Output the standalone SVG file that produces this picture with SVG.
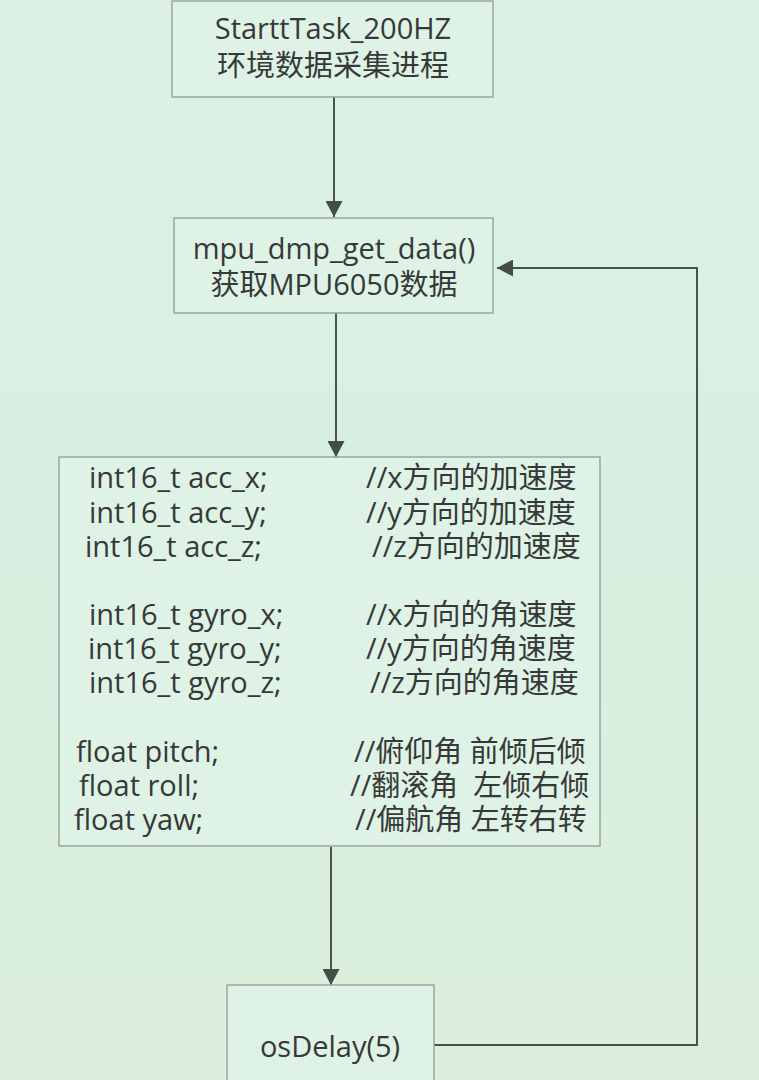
<svg xmlns="http://www.w3.org/2000/svg" width="759" height="1080" viewBox="0 0 759 1080">
<defs>
<linearGradient id="bg" x1="0" y1="0" x2="0" y2="1">
<stop offset="0" stop-color="#dcf1e4"/>
<stop offset="0.5" stop-color="#d7efe0"/>
<stop offset="1" stop-color="#dcefdc"/>
</linearGradient>
<marker id="ah" markerWidth="16" markerHeight="17" refX="16" refY="8.5" orient="auto" markerUnits="userSpaceOnUse">
<path d="M0,0 L16,8.5 L0,17 Z" fill="#454d48"/>
</marker>
<style>
.box{fill:#dff2e6;stroke:#98a69e;stroke-width:1.5}
.t{font-family:"Open Sans","Noto Sans CJK SC",sans-serif;font-size:29px;fill:#363937;white-space:pre}
.c{text-anchor:middle}
.ln{fill:none;stroke:#4a524d;stroke-width:2}
</style>
</defs>
<rect x="0" y="0" width="759" height="1080" fill="url(#bg)"/>
<g id="connectors">
<line class="ln" x1="334" y1="97" x2="334" y2="217" marker-end="url(#ah)"/>
<line class="ln" x1="336" y1="313" x2="336" y2="457" marker-end="url(#ah)"/>
<line class="ln" x1="331" y1="847" x2="331" y2="985" marker-end="url(#ah)"/>
<polyline class="ln" points="434,1045 697,1045 697,268 497,268" marker-end="url(#ah)"/>
</g>
<g id="node-start">
<rect class="box" x="172" y="1" width="321" height="96"/>
<text class="t c" x="333" y="39">StarttTask_200HZ</text>
<text class="t c" x="333" y="76">环境数据采集进程</text>
</g>
<g id="node-getdata">
<rect class="box" x="174" y="218" width="319" height="95"/>
<text class="t c" x="334" y="259">mpu_dmp_get_data()</text>
<text class="t c" x="334" y="295">获取MPU6050数据</text>
</g>
<g id="node-vars">
<rect class="box" x="59" y="457" width="541" height="389"/>
<text class="t" x="89" y="488">int16_t acc_x;</text>
<text class="t" x="89" y="523">int16_t acc_y;</text>
<text class="t" x="85" y="557">int16_t acc_z;</text>
<text class="t" x="89" y="625">int16_t gyro_x;</text>
<text class="t" x="88" y="659">int16_t gyro_y;</text>
<text class="t" x="89" y="693">int16_t gyro_z;</text>
<text class="t" x="76" y="762">float pitch;</text>
<text class="t" x="79" y="796">float roll;</text>
<text class="t" x="74" y="830">float yaw;</text>
<text class="t" x="366" y="488">//x方向的加速度</text>
<text class="t" x="366" y="523">//y方向的加速度</text>
<text class="t" x="372" y="557">//z方向的加速度</text>
<text class="t" x="366" y="625">//x方向的角速度</text>
<text class="t" x="366" y="659">//y方向的角速度</text>
<text class="t" x="370" y="693">//z方向的角速度</text>
<text class="t" x="354" y="762">//俯仰角 前倾后倾</text>
<text class="t" x="350" y="796" xml:space="preserve">//翻滚角  左倾右倾</text>
<text class="t" x="355" y="830">//偏航角 左转右转</text>
</g>
<g id="node-delay">
<rect class="box" x="227" y="985" width="207" height="110"/>
<text class="t c" x="330" y="1057">osDelay(5)</text>
</g>
</svg>
